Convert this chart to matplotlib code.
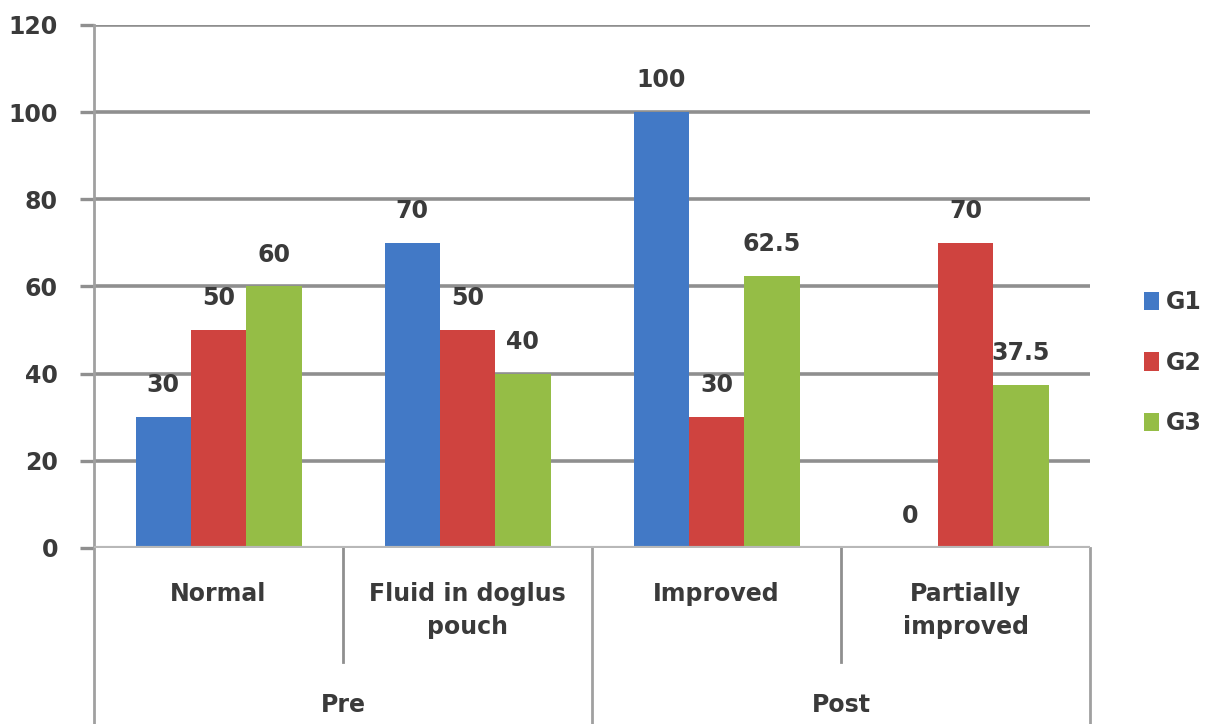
import matplotlib.pyplot as plt
import matplotlib.transforms as mtransforms
import numpy as np

# ultrasound findings per group (%)
categories = ['Normal', 'Fluid in doglus\npouch', 'Improved', 'Partially\nimproved']
phases = ['Pre', 'Post']
series = ['G1', 'G2', 'G3']
g1 = [30, 70, 100, 0]
g2 = [50, 50, 30, 70]
g3 = [60, 40, 62.5, 37.5]
y_ticks = [0, 20, 40, 60, 80, 100, 120]

colors = ['#4279C6', '#CF433F', '#95BD46']
text_color = '#3a3a3a'
grid_color = '#8f8f8f'

plt.rcParams['font.family'] = 'DejaVu Sans'
plt.rcParams['font.weight'] = 'bold'

fig = plt.figure(figsize=(12.13, 7.24), dpi=100)
ax = fig.add_axes([0.0775, 0.2431, 0.8211, 0.7224])

x = np.arange(len(categories))
width = 1 / 4.5  # Excel-style 150% gap
values = [g1, g2, g3]
for i, (name, vals) in enumerate(zip(series, values)):
    pos = x + (i - 1) * width
    ax.bar(pos, vals, width, color=colors[i], label=name, zorder=3)
    for px_, v in zip(pos, vals):
        ax.text(px_, v + 7.3, f'{v:g}', ha='center', va='center', fontsize=17,
                color=text_color, zorder=2)

ax.set_xlim(-0.5, len(categories) - 0.5)
ax.set_ylim(0, 120)
ax.set_yticks(y_ticks)
ax.set_yticklabels([str(t) for t in y_ticks], fontsize=17, color=text_color)
ax.tick_params(axis='y', length=10, width=2.4, color=grid_color, pad=16)
ax.yaxis.grid(True, color=grid_color, linewidth=2.6, zorder=0)
ax.set_axisbelow(True)
ax.set_xticks([])

for side in ['top', 'right', 'bottom', 'left']:
    ax.spines[side].set_visible(False)

# baseline across the plot
ax.axhline(0, color='#b8b8b8', linewidth=3, zorder=4)

# two-level category axis below the plot
trans = mtransforms.blended_transform_factory(ax.transData, ax.transAxes)
for xi, cat in zip(x, categories):
    ax.text(xi, -0.065, cat, transform=trans, ha='center', va='top',
            fontsize=17, color=text_color, linespacing=1.45)
for j, ph in enumerate(phases):
    ax.text(2 * j + 0.5, -0.30, ph, transform=trans, ha='center', va='center',
            fontsize=17, color=text_color)

# separators between categories and between phases
for xs in [0.5, 2.5]:
    ax.plot([xs, xs], [0, -0.218], transform=trans, color=grid_color,
            linewidth=2, clip_on=False)
ax.plot([-0.5, -0.5], [1, -0.34], transform=trans, color='#a0a0a0',
        linewidth=2, clip_on=False)
for xs in [1.5, 3.5]:
    ax.plot([xs, xs], [0, -0.34], transform=trans, color='#a0a0a0',
            linewidth=2, clip_on=False)

ax.legend(loc='center left', bbox_to_anchor=(0.943, 0.499),
          bbox_transform=fig.transFigure, frameon=False, fontsize=17,
          borderpad=0, borderaxespad=0,
          handlelength=0.65, handleheight=0.8, handletextpad=0.3,
          labelspacing=1.55, labelcolor=text_color)

fig.savefig('out.png', dpi=100, facecolor='white')
